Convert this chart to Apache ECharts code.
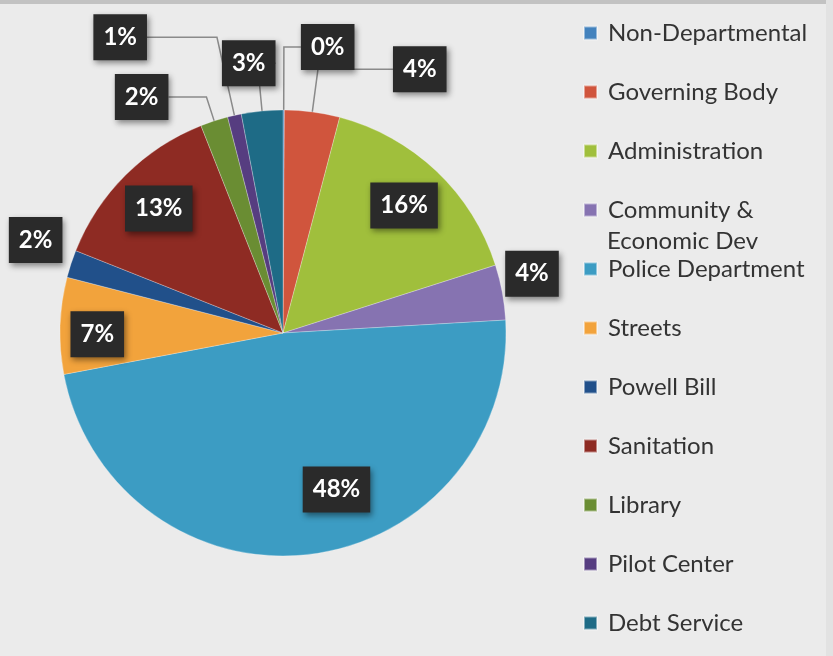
<!DOCTYPE html>
<html>
<head>
<meta charset="utf-8">
<script src="https://cdn.jsdelivr.net/npm/echarts@6/dist/echarts.min.js"></script>
<style>
  html, body { margin: 0; padding: 0; background: #ebebeb; }
  #chart { width: 833px; height: 656px; }
</style>
</head>
<body>
<div id="chart"></div>
<script>
// Budget share by department (percent of total)
const categories = [
  'Non-Departmental', 'Governing Body', 'Administration', 'Community & Economic Dev',
  'Police Department', 'Streets', 'Powell Bill', 'Sanitation', 'Library',
  'Pilot Center', 'Debt Service'
];
const shares = [0.1, 4, 16, 4, 48, 7, 2, 13, 2, 1, 3];

const palette = [
  '#4382bd', '#d0553d', '#a0bf3c', '#8673b1', '#3c9cc3', '#f2a33c',
  '#21508a', '#8e2b23', '#6a8d33', '#563d80', '#1e6b86'
];

// Slices whose labels sit inside the pie
const insideLabels = ['Administration', 'Police Department', 'Streets', 'Sanitation'];

// Leader-line lengths for the labels drawn outside the pie
const leader = {
  'Non-Departmental':         { len: 63, len2: 17, line: true },
  'Governing Body':           { len: 43, len2: 75, line: true },
  'Community & Economic Dev': { len: 3,  len2: 0,  line: false },
  'Powell Bill':              { len: 9,  len2: 0,  line: false },
  'Library':                  { len: 25, len2: 38, line: true },
  'Pilot Center':             { len: 80, len2: 70, line: true },
  'Debt Service':             { len: 48, len2: -18, line: true }
};

// Small nudges for a few labels (px)
const labelNudge = {
  'Community & Economic Dev': [0, -18],
  'Powell Bill': [0, -21],
  'Police Department': [32, -18],
  'Streets': [-10, 7]
};
const nudge = params => {
  const n = labelNudge[categories[params.dataIndex]];
  return n ? { dx: n[0], dy: n[1] } : {};
};

const labelBox = {
  color: '#ffffff',
  fontFamily: 'Lato',
  fontWeight: 'bold',
  fontSize: 24,
  lineHeight: 26,
  backgroundColor: '#2a2a2a',
  padding: [10, 10],
  shadowColor: 'rgba(0,0,0,0.45)',
  shadowBlur: 6,
  shadowOffsetX: 2,
  shadowOffsetY: 3,
  formatter: p => Math.round(p.percent) + '%'
};

const pieCenter = [283, 333];
const pieRadius = 223;

const mainData = categories.map((name, i) => {
  const l = leader[name];
  return {
    name,
    value: shares[i],
    label: { show: !!l },
    labelLine: l ? { show: l.line, length: l.len, length2: l.len2 } : { show: false }
  };
});

const innerLabelData = categories.map((name, i) => ({
  name,
  value: shares[i],
  label: { show: insideLabels.includes(name) }
}));

const legendFont = { fontFamily: 'Lato', fontSize: 24, color: '#333333' };

const chart = echarts.init(document.getElementById('chart'), null, { renderer: 'canvas' });

chart.setOption({
  backgroundColor: '#ebebeb',
  color: palette,
  animation: false,
  graphic: [
    { type: 'rect', left: 0, top: 0, shape: { width: 833, height: 4 }, style: { fill: '#c2c2c2' }, z: -1 },
    { type: 'rect', right: 0, top: 0, shape: { width: 7, height: 656 }, style: { fill: '#e2e2e2' }, z: -1 },
    {
      // second line of the "Community & Economic Dev" legend entry
      type: 'text', x: 607, y: 241,
      style: {
        text: 'Economic Dev', fill: legendFont.color,
        fontFamily: legendFont.fontFamily, fontSize: legendFont.fontSize,
        verticalAlign: 'middle', align: 'left'
      }
    }
  ],
  legend: {
    orient: 'vertical',
    left: 583,
    top: 17.5,
    padding: 0,
    itemGap: 28,
    itemWidth: 13,
    itemHeight: 13,
    icon: 'rect',
    data: categories,
    formatter: name => name.split(' Economic')[0],
    textStyle: Object.assign({ lineHeight: 31, padding: [0, 0, 0, 6] }, legendFont)
  },
  series: [
    {
      type: 'pie',
      name: 'Departments',
      center: pieCenter,
      radius: [0, pieRadius],
      startAngle: 90,
      clockwise: true,
      avoidLabelOverlap: false,
      itemStyle: { borderColor: 'rgba(255,255,255,0.45)', borderWidth: 0.6 },
      label: Object.assign({ position: 'outside', distanceToLabelLine: 0, alignTo: 'none' }, labelBox),
      labelLine: {
        lineStyle: { color: '#8a8a8a', width: 1.5 },
        minTurnAngle: 0,
        maxSurfaceAngle: 180
      },
      labelLayout: nudge,
      emphasis: { disabled: true },
      data: mainData
    },
    {
      // Transparent ring used only to place the in-slice labels
      type: 'pie',
      name: 'Labels',
      center: pieCenter,
      radius: [pieRadius * 0.55, pieRadius],
      startAngle: 90,
      clockwise: true,
      silent: true,
      itemStyle: { color: 'rgba(0,0,0,0)', borderWidth: 0 },
      label: Object.assign({ position: 'inside' }, labelBox),
      labelLine: { show: false },
      labelLayout: nudge,
      emphasis: { disabled: true },
      data: innerLabelData
    }
  ]
});
</script>
</body>
</html>
